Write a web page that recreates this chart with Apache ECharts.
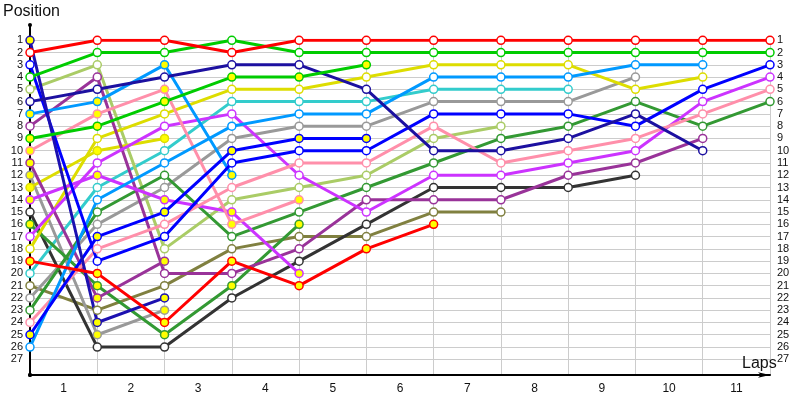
<!DOCTYPE html>
<html>
<head>
<meta charset="utf-8">
<script src="https://cdn.jsdelivr.net/npm/echarts@6/dist/echarts.min.js"></script>
<style>
  html, body { margin: 0; padding: 0; background: #fff; }
  #chart { width: 800px; height: 400px; }
</style>
</head>
<body>
<div id="chart"></div>
<script>
  // lap labels under the axis
  var laps = ['1', '2', '3', '4', '5', '6', '7', '8', '9', '10', '11'];
  var lastPosition = 27;

  // position per lap, starting with the grid (lap 0)
  var red       = [2, 1, 1, 2, 1, 1, 1, 1, 1, 1, 1, 1];
  var red2      = [19, 20, 24, 19, 21, 18, 16];
  var green     = [4, 2, 2, 1, 2, 2, 2, 2, 2, 2, 2, 2];
  var green2    = [9, 8, 6, 4, 4, 3];
  var navy      = [6, 5, 4, 3, 3, 5, 10, 10, 9, 7, 10];
  var navy2     = [1, 24, 22];
  var blue      = [3, 19, 17, 11, 10, 10, 7, 7, 7, 8, 5, 3];
  var blue2     = [25, 17, 15, 10, 9, 9];
  var skyblue   = [26, 14, 11, 8, 7, 7, 4, 4, 4, 3, 3];
  var skyblue2  = [7, 6, 3, 12];
  var pink      = [24, 18, 16, 13, 11, 11, 8, 11, 10, 9, 7, 5];
  var pink2     = [10, 7, 5, 16, 14];
  var magenta   = [17, 11, 8, 7, 12, 15, 12, 12, 11, 10, 6, 4];
  var magenta2  = [14, 12, 14, 15, 20];
  var purple    = [8, 4, 20, 20, 18, 14, 14, 14, 12, 11, 9];
  var purple2   = [11, 22, 19];
  var yellow    = [18, 9, 7, 5, 5, 4, 3, 3, 3, 5, 4];
  var yellow2   = [13, 10, 9];
  var darkgreen = [23, 15, 12, 17, 15, 13, 11, 9, 8, 6, 8, 6];
  var darkgreen2 = [16, 21, 25, 21, 16];
  var gray      = [22, 16, 13, 9, 8, 8, 6, 6, 6, 4];
  var gray2     = [12, 25, 23];
  var lightgreen = [5, 3, 18, 14, 13, 12, 9, 8];
  var cyan      = [20, 13, 10, 6, 6, 6, 5, 5, 5];
  var olive     = [21, 23, 21, 18, 17, 17, 15, 15];
  var black     = [15, 26, 26, 22, 19, 16, 13, 13, 13, 12];

  var chart = echarts.init(document.getElementById('chart'));

  function driver(name, values, color, pit) {
    return {
      name: name,
      type: 'line',
      xAxisIndex: 2,
      yAxisIndex: 3,
      data: values.map(function (v, i) { return [i, v]; }),
      symbol: 'circle',
      symbolSize: 8,
      showAllSymbol: true,
      lineStyle: { color: color, width: 3 },
      itemStyle: { color: pit ? '#ffff00' : '#ffffff', borderColor: color, borderWidth: 1.5 },
      emphasis: { disabled: true },
      animation: false
    };
  }

  var font = 'Liberation Sans';

  chart.setOption({
    animation: false,
    title: [
      { text: 'Position', left: 3, top: 4, padding: 0,
        textStyle: { fontFamily: font, fontSize: 16, fontWeight: 'normal', color: '#111' } },
      { text: 'Laps', left: 742, top: 356, padding: 0,
        textStyle: { fontFamily: font, fontSize: 16, fontWeight: 'normal', color: '#111' } }
    ],
    grid: [
      { left: 30, right: 30, top: 40.27, bottom: 40.73 },
      { left: 30, right: 30, top: 25, bottom: 25 },
      { left: 30, right: 30, top: 40.27, bottom: 25 }
    ],
    xAxis: [
      { gridIndex: 0, type: 'value', min: 0, max: 11, show: false },
      {
        gridIndex: 1, type: 'category', data: laps, boundaryGap: true, position: 'bottom',
        axisLine: { lineStyle: { color: '#000', width: 2 }, symbol: ['circle', 'arrow'], symbolSize: [4, 12] },
        axisTick: { show: false },
        splitLine: { show: false },
        axisLabel: { fontFamily: font, fontSize: 12, color: '#111', margin: 8 }
      },
      {
        gridIndex: 2, type: 'value', min: 0, max: 11, interval: 1,
        axisLine: { show: false }, axisTick: { show: false }, axisLabel: { show: false },
        splitLine: { show: true, lineStyle: { color: '#cccccc', width: 1 } }
      }
    ],
    yAxis: [
      {
        gridIndex: 0, type: 'value', inverse: true, min: 1, max: lastPosition, interval: 1,
        axisLine: { show: false }, axisTick: { show: false },
        axisLabel: { fontFamily: font, fontSize: 11, color: '#111', margin: 7 },
        splitLine: { show: true, lineStyle: { color: '#cccccc', width: 1 } }
      },
      {
        gridIndex: 0, type: 'value', inverse: true, min: 1, max: lastPosition, interval: 1, position: 'right',
        axisLine: { show: false }, axisTick: { show: false },
        axisLabel: { fontFamily: font, fontSize: 11, color: '#111', margin: 7 },
        splitLine: { show: false }
      },
      {
        gridIndex: 1, type: 'value', min: 0, max: 1,
        axisLine: { show: true, lineStyle: { color: '#000', width: 2 }, symbol: ['circle', 'circle'], symbolSize: [4, 4] },
        axisTick: { show: false }, axisLabel: { show: false }, splitLine: { show: false }
      },
      {
        gridIndex: 2, type: 'value', inverse: true, min: 1, max: 28.28, show: false
      }
    ],
    series: [
      driver('olive', olive, '#808040', false),
      driver('black', black, '#333333', false),
      driver('cyan', cyan, '#33cccc', false),
      driver('lightgreen', lightgreen, '#aacc66', false),
      driver('gray2', gray2, '#999999', true),
      driver('gray', gray, '#999999', false),
      driver('darkgreen2', darkgreen2, '#339933', true),
      driver('darkgreen', darkgreen, '#339933', false),
      driver('yellow2', yellow2, '#dddd00', true),
      driver('yellow', yellow, '#dddd00', false),
      driver('purple2', purple2, '#993399', true),
      driver('purple', purple, '#993399', false),
      driver('magenta2', magenta2, '#cc33ff', true),
      driver('magenta', magenta, '#cc33ff', false),
      driver('pink2', pink2, '#ff8faa', true),
      driver('pink', pink, '#ff8faa', false),
      driver('skyblue2', skyblue2, '#0099ff', true),
      driver('skyblue', skyblue, '#0099ff', false),
      driver('blue2', blue2, '#0000ff', true),
      driver('blue', blue, '#0000ff', false),
      driver('navy2', navy2, '#1c10b0', true),
      driver('navy', navy, '#1c10a0', false),
      driver('green2', green2, '#00cc00', true),
      driver('green', green, '#00cc00', false),
      driver('red2', red2, '#ff0000', true),
      driver('red', red, '#ff0000', false)
    ]
  });
</script>
</body>
</html>
